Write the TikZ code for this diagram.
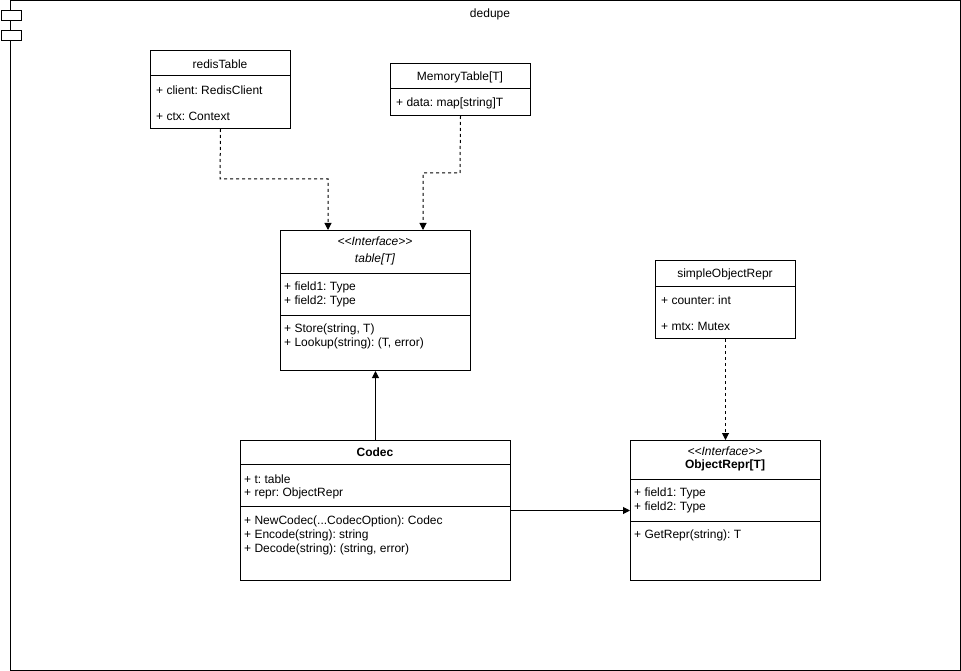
\documentclass[tikz,border=0pt]{standalone}
\usepackage{fontspec}
\setmainfont{Liberation Sans}
\usetikzlibrary{arrows.meta}
\frenchspacing
\newcommand{\stereo}[1]{{<}{<}#1{>}{>}}
\begin{document}
\begin{tikzpicture}[x=1pt,y=-1pt,
  every node/.style={font=\fontsize{12}{14}\selectfont, inner sep=0pt},
  box/.style={draw, line width=1pt, fill=white, anchor=north west},
  txt/.style={anchor=west},
  ctr/.style={anchor=center},
  dep/.style={line width=1pt, dash pattern=on 3pt off 3pt, -{Triangle[width=7pt,length=7pt]}},
  assoc/.style={line width=1pt, -{Triangle[width=7pt,length=7pt]}},
  sep/.style={line width=1pt}]
\useasboundingbox (0,0) rectangle (961,671);
% frame
\node[box, minimum width=950pt, minimum height=669.5pt] (frame) at (10,0.5) {};
\node[ctr] (title) at (490,14) {dedupe};
\node[box, minimum width=20pt, minimum height=10pt] (ico1) at (1,10) {};
\node[box, minimum width=20pt, minimum height=10pt] (ico2) at (1,30) {};

% redisTable
\node[box, minimum width=140pt, minimum height=78pt] (redis) at (150,50) {};
\draw[sep] (150,76) -- (290,76);
\node[ctr] (redisT) at (220,64) {redisTable};
\node[txt] (redisA) at (156,90) {+ client: RedisClient};
\node[txt] (redisB) at (156,116) {+ ctx: Context};

% MemoryTable
\node[box, minimum width=140pt, minimum height=52pt] (mem) at (390,63) {};
\draw[sep] (390,89) -- (530,89);
\node[ctr] (memT) at (460,77) {MemoryTable[T]};
\node[txt] (memA) at (396,103) {+ data: map[string]T};

% table[T]
\node[box, minimum width=190pt, minimum height=140pt] (tbl) at (280,230) {};
\node[ctr] (tblS) at (375,241.5) {\itshape\stereo{Interface}};
\node[ctr] (tblT) at (375,259.5) {\itshape table[T]};
\draw[sep] (280,273) -- (470,273);
\node[txt] (tblA) at (284,287.5) {+ field1: Type};
\node[txt] (tblB) at (284,301.5) {+ field2: Type};
\draw[sep] (280,315) -- (470,315);
\node[txt] (tblC) at (284,329.5) {+ Store(string, T)};
\node[txt] (tblD) at (284,343.5) {+ Lookup(string): (T, error)};

% simpleObjectRepr
\node[box, minimum width=140pt, minimum height=78pt] (sor) at (655,260) {};
\draw[sep] (655,286) -- (795,286);
\node[ctr] (sorT) at (725,274) {simpleObjectRepr};
\node[txt] (sorA) at (661,300) {+ counter: int};
\node[txt] (sorB) at (661,326) {+ mtx: Mutex};

% Codec
\node[box, minimum width=270pt, minimum height=140pt] (codec) at (240,440) {};
\node[ctr] (codecT) at (375,452) {\bfseries Codec};
\draw[sep] (240,464) -- (510,464);
\node[txt] (codecA) at (244,479.5) {+ t: table};
\node[txt] (codecB) at (244,493.5) {+ repr: ObjectRepr};
\draw[sep] (240,506) -- (510,506);
\node[txt] (codecC) at (244,521.5) {+ NewCodec(...CodecOption): Codec};
\node[txt] (codecD) at (244,535.5) {+ Encode(string): string};
\node[txt] (codecE) at (244,549.5) {+ Decode(string): (string, error)};

% ObjectRepr[T]
\node[box, minimum width=190pt, minimum height=140pt] (orp) at (630,440) {};
\node[ctr] (orpS) at (725,451.5) {\itshape\stereo{Interface}};
\node[ctr] (orpT) at (725,465.5) {\bfseries ObjectRepr[T]};
\draw[sep] (630,479) -- (820,479);
\node[txt] (orpA) at (634,493.5) {+ field1: Type};
\node[txt] (orpB) at (634,507.5) {+ field2: Type};
\draw[sep] (630,521) -- (820,521);
\node[txt] (orpC) at (634,535.5) {+ GetRepr(string): T};

% connectors
\coordinate (tin1) at (328,230);
\coordinate (tin2) at (423,230);
\coordinate (e1) at (220,179);
\coordinate (e2) at (460,173);
\draw[dep] (redis.south) -- (e1) -| (tin1);
\draw[dep] (mem.south) -- (e2) -| (tin2);
\draw[assoc] (codec.north) -- (tbl.south);
\coordinate (cout) at (510,510.5);
\coordinate (oin) at (630,510.5);
\draw[assoc] (cout) -- (oin);
\draw[dep] (sor.south) -- (orp.north);
\end{tikzpicture}
\end{document}
